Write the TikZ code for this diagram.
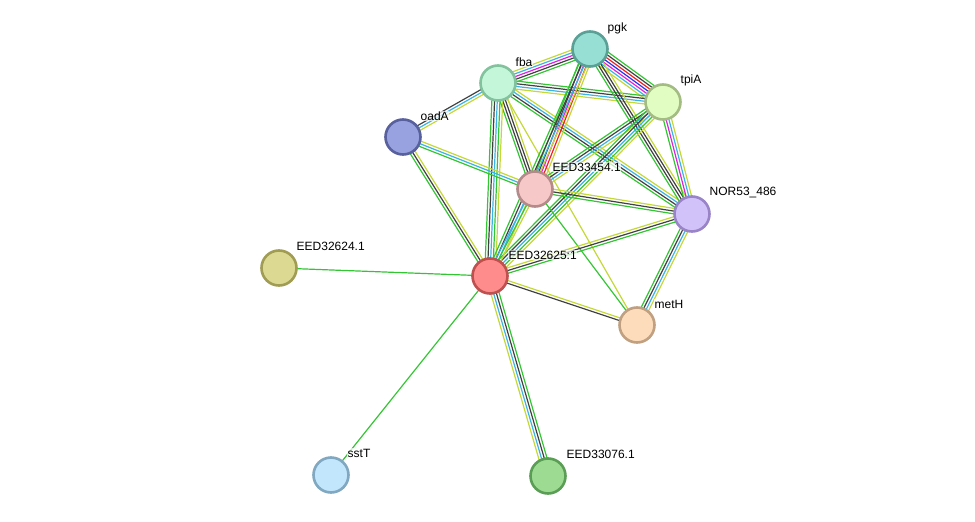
\documentclass[tikz,border=0pt]{standalone}
\usepackage{fontspec}
\setmainfont{Liberation Sans}
\usetikzlibrary{calc}
\pgfdeclarelayer{background}
\pgfsetlayers{background,main}
\definecolor{cg}{HTML}{33C533}
\definecolor{cd}{HTML}{404040}
\definecolor{cm}{HTML}{E020E0}
\definecolor{cc}{HTML}{3AB4E4}
\definecolor{cy}{HTML}{C4D838}
\definecolor{cb}{HTML}{3030F0}
\definecolor{cr}{HTML}{F02020}
\tikzset{
  prot/.style={circle, minimum size=35pt, inner sep=0pt, line width=2.6pt},
  lab/.style={anchor=west, font=\fontsize{12}{13}\selectfont, inner sep=0.5pt, fill=white, fill opacity=0.7, text opacity=1},
  strand/.style={line width=1.2pt},
}
\newcommand\bundle[3]{%
  \foreach \cc [count=\ii] in {#3} {\xdef\bn{\ii}}%
  \foreach \cc [count=\ii] in {#3} {%
    \pgfmathsetmacro\off{(\ii-(\bn+1)/2)*2.7}%
    \draw[strand, color=\cc] ($(#1)!\off pt!90:(#2)$) -- ($(#2)!\off pt!-90:(#1)$);
  }%
}
\begin{document}
\begin{tikzpicture}[x=1pt,y=-1pt]
\useasboundingbox (0,0) rectangle (975,522);
\node[prot, fill={rgb,255:red,151;green,222;blue,212}, draw={rgb,255:red,90;green,160;blue,150}] (pgk) at (590,49) {};
\node[prot, fill={rgb,255:red,196;green,247;blue,218}, draw={rgb,255:red,130;green,194;blue,156}] (fba) at (498,83) {};
\node[prot, fill={rgb,255:red,226;green,253;blue,194}, draw={rgb,255:red,163;green,188;blue,132}] (tpiA) at (663,102) {};
\node[prot, fill={rgb,255:red,152;green,162;blue,224}, draw={rgb,255:red,88;green,96;blue,158}] (oadA) at (403,137) {};
\node[prot, fill={rgb,255:red,247;green,200;blue,200}, draw={rgb,255:red,181;green,138;blue,138}] (e54) at (535,189) {};
\node[prot, fill={rgb,255:red,210;green,194;blue,250}, draw={rgb,255:red,154;green,132;blue,200}] (nor) at (692,214) {};
\node[prot, fill={rgb,255:red,220;green,218;blue,146}, draw={rgb,255:red,160;green,156;blue,84}] (e24) at (279,268) {};
\node[prot, fill={rgb,255:red,255;green,140;blue,140}, draw={rgb,255:red,192;green,80;blue,80}] (e25) at (490,276) {};
\node[prot, fill={rgb,255:red,253;green,220;blue,188}, draw={rgb,255:red,192;green,160;blue,128}] (meth) at (637,325) {};
\node[prot, fill={rgb,255:red,194;green,230;blue,251}, draw={rgb,255:red,128;green,168;blue,192}] (sstt) at (331,475) {};
\node[prot, fill={rgb,255:red,157;green,219;blue,146}, draw={rgb,255:red,90;green,158;blue,85}] (e76) at (548,476) {};

\node[lab] at (607,28) {pgk};
\node[lab] at (515,62) {fba};
\node[lab] at (680,80) {tpiA};
\node[lab] at (420,116) {oadA};
\node[lab] at (552,167) {EED33454.1};
\node[lab] at (709,193) {NOR53\_486};
\node[lab] at (296,246) {EED32624.1};
\node[lab] at (508,255) {EED32625:1};
\node[lab] at (654,304) {metH};
\node[lab] at (347,453) {sstT};
\node[lab] at (566,454) {EED33076.1};

\begin{pgfonlayer}{background}
\bundle{fba}{pgk}{cg,cd,cm,cc,cy}
\bundle{pgk}{tpiA}{cy,cc,cm,cb,cr,cd,cg}
\bundle{fba}{tpiA}{cy,cc,cd,cg}
\bundle{fba}{oadA}{cd,cc,cy}
\bundle{fba}{e54}{cg,cd,cd,cy}
\bundle{fba}{e25}{cg,cd,cc,cg,cy}
\bundle{fba}{nor}{cg,cd,cc,cy}
\bundle{fba}{meth}{cy}
\bundle{pgk}{e54}{cg,cd,cm,cr,cy}
\bundle{pgk}{e25}{cg,cd,cc,cy}
\bundle{pgk}{nor}{cg,cd,cd,cy}
\bundle{tpiA}{e54}{cg,cd,cc,cy}
\bundle{tpiA}{e25}{cg,cd,cc,cg,cy}
\bundle{tpiA}{nor}{cg,cm,cc,cy}
\bundle{oadA}{e54}{cg,cc,cy}
\bundle{oadA}{e25}{cg,cd,cy}
\bundle{e54}{nor}{cg,cd,cy}
\bundle{e54}{e25}{cc,cg,cy}
\bundle{e54}{meth}{cg}
\bundle{e25}{nor}{cg,cd,cy}
\bundle{e25}{meth}{cd,cy}
\bundle{nor}{meth}{cg,cd,cc,cy}
\bundle{e25}{e24}{cg}
\bundle{e25}{sstt}{cg}
\bundle{e25}{e76}{cy,cc,cd,cg}
\end{pgfonlayer}
\end{tikzpicture}
\end{document}
